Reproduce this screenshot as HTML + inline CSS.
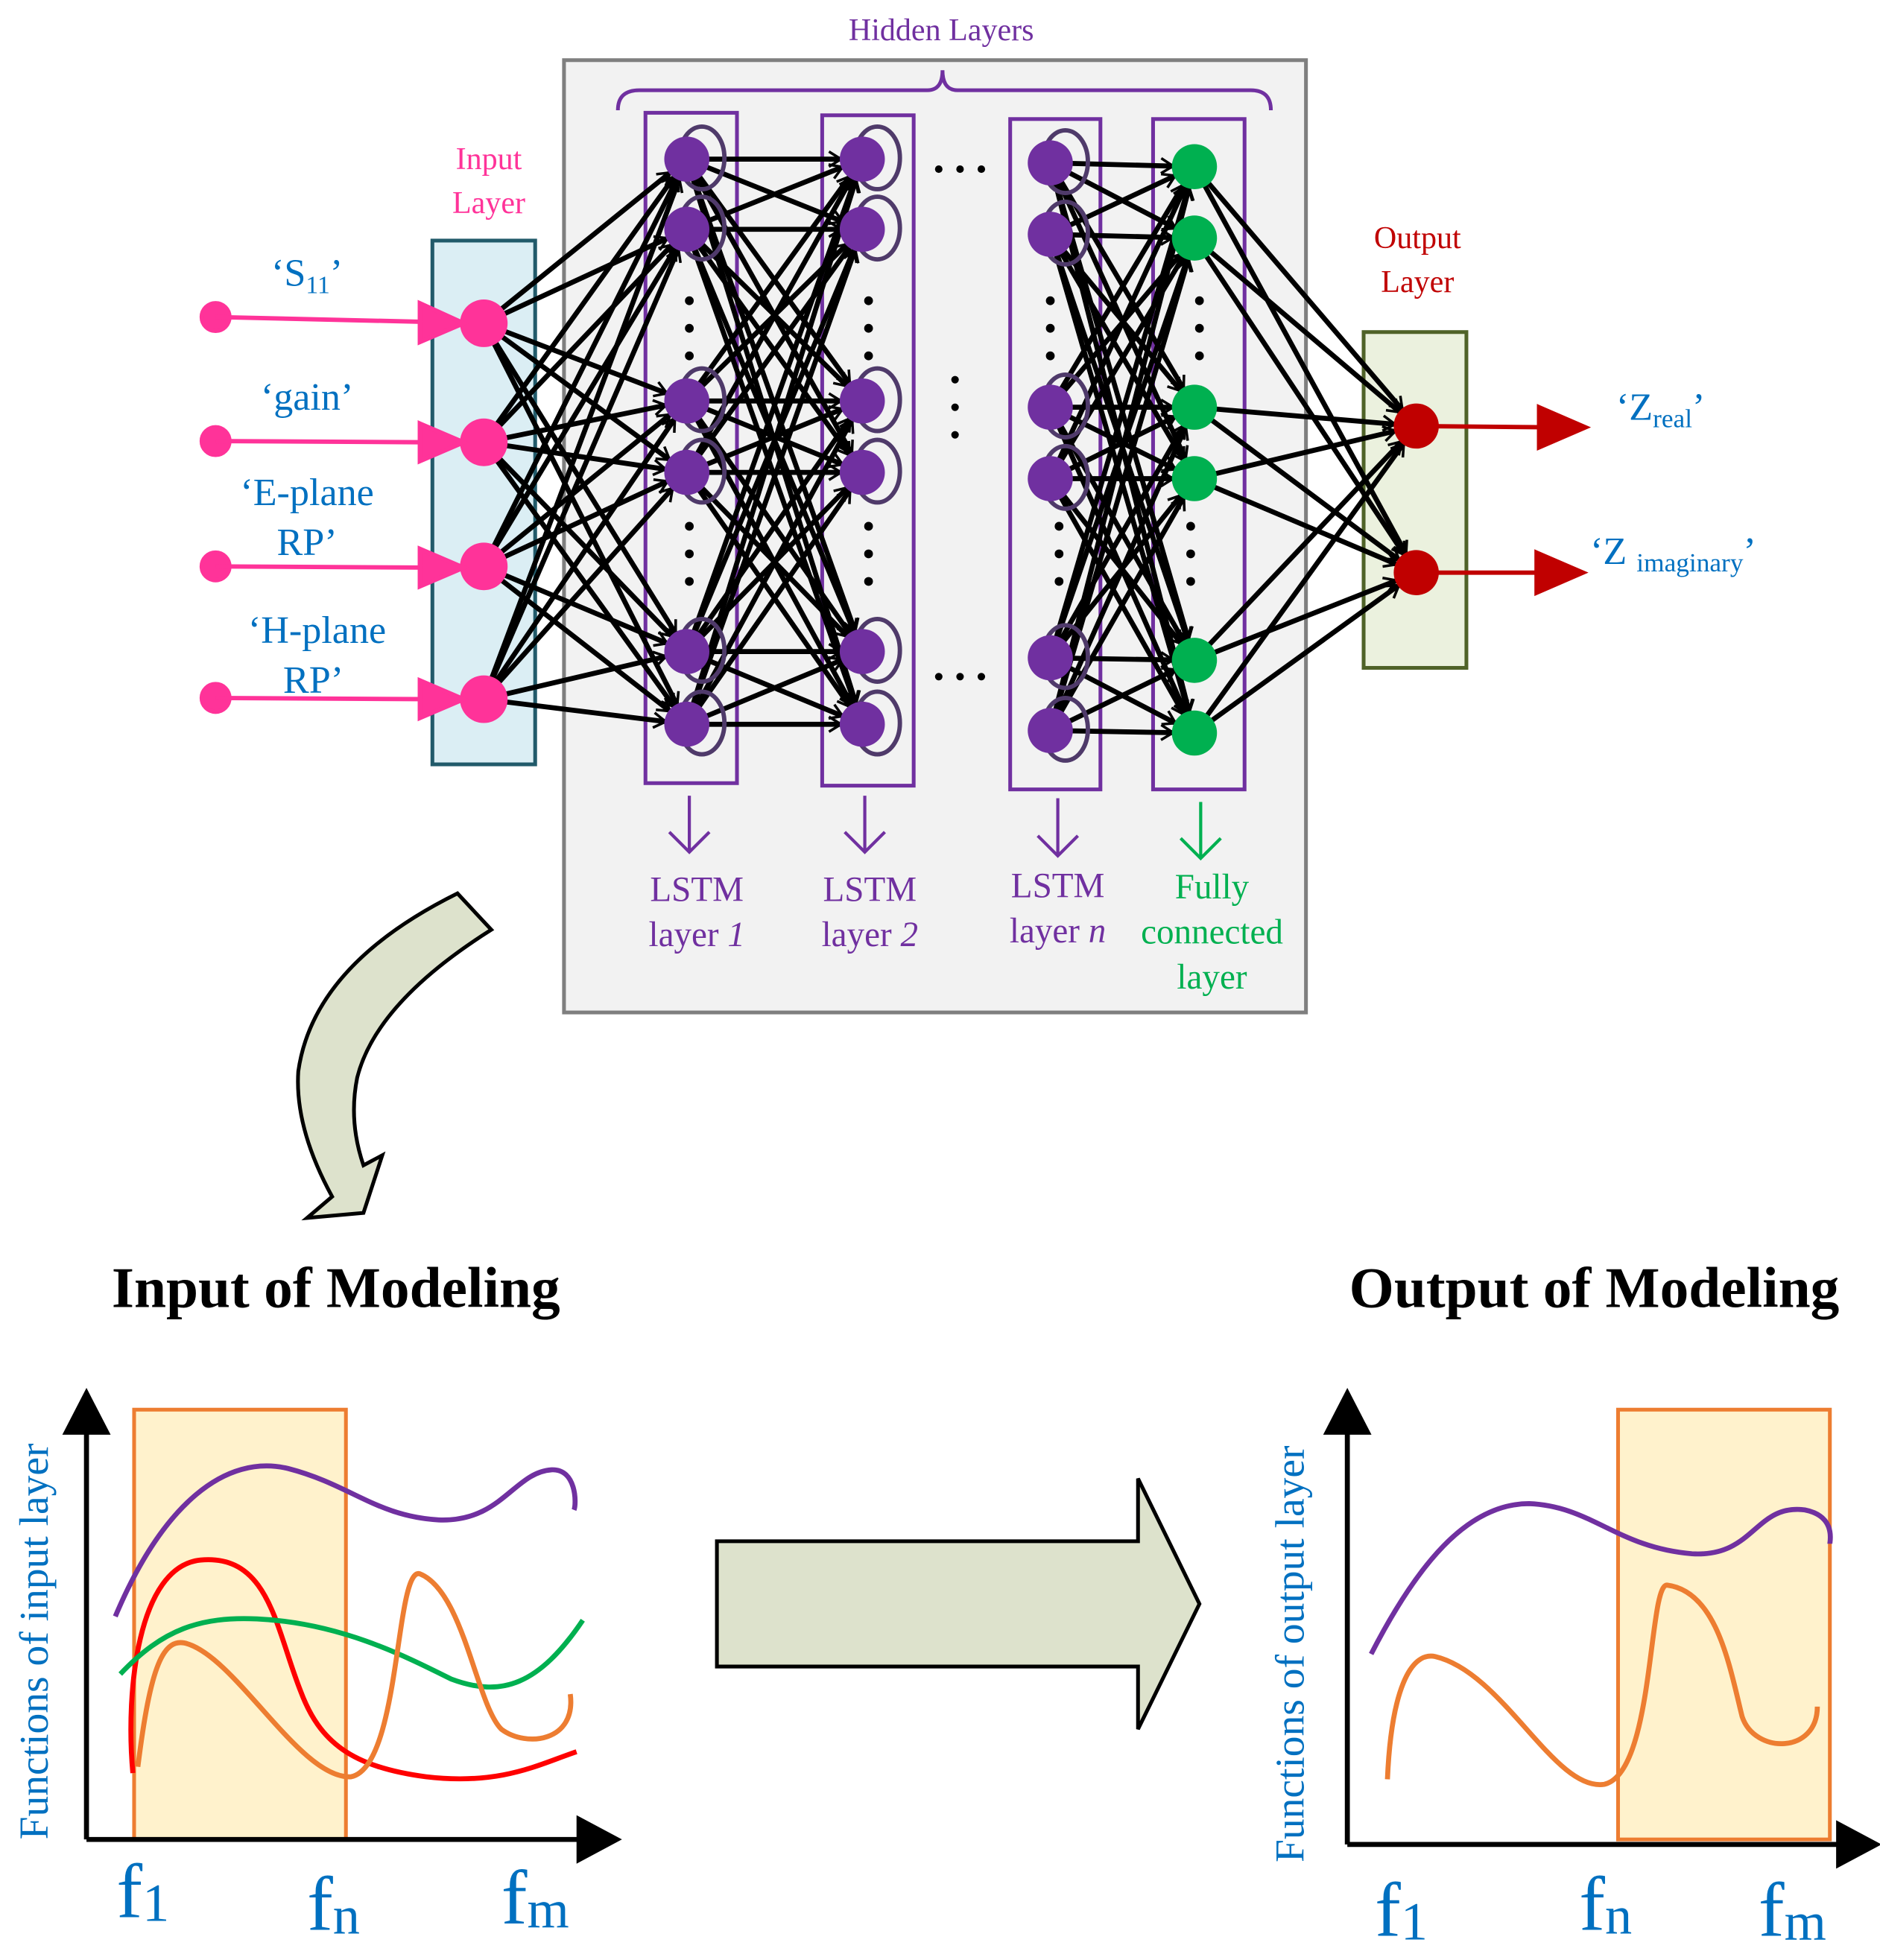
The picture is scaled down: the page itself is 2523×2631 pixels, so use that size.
<!DOCTYPE html>
<html><head><meta charset="utf-8"><style>
html,body{margin:0;padding:0;background:#fff}
svg{display:block}
text{font-family:"Liberation Serif",serif}
</style></head><body>
<svg id="s" width="2523" height="2631" viewBox="0 0 1500 1564.2" xmlns="http://www.w3.org/2000/svg">
<defs>
<marker id="ah" viewBox="0 0 10 10" refX="9" refY="5" markerWidth="6" markerHeight="6" orient="auto" markerUnits="userSpaceOnUse" style="overflow:visible">
<path d="M-16,-10 L0,0 L-16,10" transform="translate(9,5)" fill="none" stroke="#000" stroke-width="3.5"/>
</marker>
</defs>
<rect width="1500" height="1565" fill="#fff"/>
<rect x="450" y="48" width="592" height="760" fill="#f2f2f2" stroke="#7f7f7f" stroke-width="3"/>
<text x="751" y="32" font-size="25" fill="#7030a0" text-anchor="middle">Hidden Layers</text>
<path d="M493,88 Q493,72 510,72 L740,72 Q752,72 752,56 Q752,72 764,72 L998,72 Q1014,72 1014,88" fill="none" stroke="#7030a0" stroke-width="3"/>
<text x="390" y="135" font-size="25" fill="#ff3399" text-anchor="middle">Input</text>
<text x="390" y="170" font-size="25" fill="#ff3399" text-anchor="middle">Layer</text>
<rect x="345" y="192" width="82" height="418" fill="#dbeef4" stroke="#215a6a" stroke-width="3"/>
<text x="1131" y="198" font-size="25" fill="#c00000" text-anchor="middle">Output</text>
<text x="1131" y="233" font-size="25" fill="#c00000" text-anchor="middle">Layer</text>
<rect x="1088" y="265" width="82" height="268" fill="#ebf1de" stroke="#4f6228" stroke-width="3"/>
<rect x="515" y="90" width="73" height="535" fill="none" stroke="#7030a0" stroke-width="3"/>
<rect x="656" y="92" width="73" height="535" fill="none" stroke="#7030a0" stroke-width="3"/>
<rect x="806" y="95" width="72" height="535" fill="none" stroke="#7030a0" stroke-width="3"/>
<rect x="920" y="95" width="73" height="535" fill="none" stroke="#7030a0" stroke-width="3"/>
<g id="conn" stroke="#000" stroke-width="4" fill="none"></g>
<g id="nodes"></g>
<g stroke="#ff3399" stroke-width="3.5" fill="#ff3399">
<circle cx="172" cy="253" r="11"/><line x1="172" y1="253" x2="345" y2="257"/><path d="M335,242 L370,258 L335,273Z"/>
<circle cx="172" cy="352" r="11"/><line x1="172" y1="352" x2="345" y2="353"/><path d="M335,338 L370,353 L335,368Z"/>
<circle cx="172" cy="452" r="11"/><line x1="172" y1="452" x2="345" y2="453"/><path d="M335,438 L370,453 L335,468Z"/>
<circle cx="172" cy="557" r="11"/><line x1="172" y1="557" x2="345" y2="558"/><path d="M335,543 L370,558 L335,573Z"/>
</g>
<g fill="#0070c0" font-size="31" text-anchor="middle">
<text x="245" y="228">‘S<tspan font-size="20" dy="6">11</tspan><tspan dy="-6">’</tspan></text>
<text x="245" y="327">‘gain’</text>
<text x="245" y="403">‘E-plane</text>
<text x="245" y="443">RP’</text>
<text x="253" y="513">‘H-plane</text>
<text x="250" y="553">RP’</text>
<text x="1325" y="335">‘Z<tspan font-size="21" dy="6">real</tspan><tspan dy="-6">’</tspan></text>
<text x="1335" y="450">‘Z <tspan font-size="21" dy="6">imaginary</tspan><tspan dy="-6">’</tspan></text>
</g>
<g stroke="#c00000" stroke-width="3.5" fill="#c00000">
<line x1="1130" y1="340" x2="1235" y2="341"/><path d="M1228,325 L1265,341 L1228,357Z"/>
<line x1="1130" y1="457" x2="1232" y2="457"/><path d="M1226,441 L1263,457 L1226,473Z"/>
</g>
<g fill="#000">
<circle cx="749" cy="135" r="3"/><circle cx="766" cy="135" r="3"/><circle cx="783" cy="135" r="3"/>
<circle cx="749" cy="540" r="3"/><circle cx="766" cy="540" r="3"/><circle cx="783" cy="540" r="3"/>
<circle cx="762" cy="303" r="3"/><circle cx="762" cy="325" r="3"/><circle cx="762" cy="347" r="3"/>
</g>
<g fill="none" stroke-width="2.5">
<path d="M550,635 V680 M534,664 L550,680 L566,664" stroke="#7030a0"/>
<path d="M690,635 V680 M674,664 L690,680 L706,664" stroke="#7030a0"/>
<path d="M844,637 V683 M828,667 L844,683 L860,667" stroke="#7030a0"/>
<path d="M958,640 V685 M942,669 L958,685 L974,669" stroke="#00b050"/>
</g>
<g font-size="28" text-anchor="middle" fill="#7030a0">
<text x="556" y="719">LSTM</text><text x="556" y="755">layer <tspan font-style="italic">1</tspan></text>
<text x="694" y="719">LSTM</text><text x="694" y="755">layer <tspan font-style="italic">2</tspan></text>
<text x="844" y="716">LSTM</text><text x="844" y="752">layer <tspan font-style="italic">n</tspan></text>
<text x="967" y="717" fill="#00b050">Fully</text><text x="967" y="753" fill="#00b050">connected</text><text x="967" y="789" fill="#00b050">layer</text>
</g>
<path d="M365,713 L392,742 Q300,800 285,860 Q278,895 290,930 L305,922 L290,968 L245,972 L265,955 Q235,900 238,855 Q250,770 365,713Z" fill="#dde2cc" stroke="#000" stroke-width="3"/>
<text x="268" y="1043" font-size="46" font-weight="bold" text-anchor="middle">Input of Modeling</text>
<text x="1272" y="1043" font-size="46" font-weight="bold" text-anchor="middle">Output of Modeling</text>
<rect x="107" y="1125" width="169" height="343" fill="#fff2cc" stroke="#ed7d31" stroke-width="3"/>
<g stroke="#000" stroke-width="4" fill="#000">
<line x1="69" y1="1468" x2="465" y2="1468"/><path d="M462,1452 L492,1468 L462,1484Z"/>
<line x1="69" y1="1468" x2="69" y2="1140"/><path d="M53,1143 L69,1112 L85,1143Z"/>
<line x1="1075" y1="1472" x2="1470" y2="1472"/><path d="M1467,1456 L1497,1472 L1467,1488Z"/>
<line x1="1075" y1="1472" x2="1075" y2="1140"/><path d="M1059,1143 L1075,1112 L1091,1143Z"/>
</g>
<g fill="none" stroke-width="4">
<path d="M92,1290 C130,1200 180,1160 230,1172 C280,1185 300,1210 350,1213 C400,1215 410,1175 440,1173 C460,1172 460,1200 458,1205" stroke="#7030a0"/>
<path d="M106,1415 C100,1350 110,1250 160,1245 C215,1240 220,1300 240,1350 C255,1390 280,1410 340,1418 C400,1425 430,1408 460,1398" stroke="#ff0000"/>
<path d="M96,1336 C130,1300 160,1290 205,1292 C270,1295 320,1320 360,1340 C400,1355 430,1345 465,1293" stroke="#00b050"/>
<path d="M110,1410 C120,1330 130,1305 150,1312 C190,1325 240,1420 280,1418 C320,1410 315,1250 335,1256 C370,1270 380,1360 400,1380 C420,1395 460,1390 455,1352" stroke="#ed7d31"/>
</g>
<text transform="translate(38,1310) rotate(-90)" font-size="33" fill="#0070c0" text-anchor="middle">Functions of input layer</text>
<g fill="#0070c0" font-size="62">
<text x="93" y="1530">f<tspan font-size="43" dy="3">1</tspan></text>
<text x="245" y="1540">f<tspan font-size="43" dy="3">n</tspan></text>
<text x="400" y="1535">f<tspan font-size="43" dy="3">m</tspan></text>
<text x="1097" y="1545">f<tspan font-size="43" dy="3">1</tspan></text>
<text x="1260" y="1540">f<tspan font-size="43" dy="3">n</tspan></text>
<text x="1403" y="1545">f<tspan font-size="43" dy="3">m</tspan></text>
</g>
<path d="M572,1230 L908,1230 L908,1180 L957,1280 L908,1380 L908,1330 L572,1330Z" fill="#dde2cc" stroke="#000" stroke-width="3"/>
<rect x="1291" y="1125" width="169" height="343" fill="#fff2cc" stroke="#ed7d31" stroke-width="3"/>
<g fill="none" stroke-width="4">
<path d="M1094,1320 C1130,1250 1170,1200 1220,1200 C1270,1202 1290,1235 1350,1240 C1400,1243 1400,1200 1440,1205 C1465,1210 1460,1230 1460,1232" stroke="#7030a0"/>
<path d="M1107,1420 C1110,1350 1125,1318 1145,1322 C1200,1335 1240,1430 1280,1424 C1320,1415 1315,1265 1330,1265 C1370,1270 1380,1330 1390,1370 C1400,1400 1450,1400 1450,1362" stroke="#ed7d31"/>
</g>
<text transform="translate(1040,1320) rotate(-90)" font-size="33" fill="#0070c0" text-anchor="middle">Functions of output layer</text>
<script>
var NS="http://www.w3.org/2000/svg";
function mk(t,a,p){var e=document.createElementNS(NS,t);for(var k in a)e.setAttribute(k,a[k]);p.appendChild(e);return e;}
var L0=[[386,258],[386,353],[386,452],[386,558]];
var ys1=[127,183,320,377,520,578];
var L1=ys1.map(function(y){return[548,y]});
var L2=ys1.map(function(y){return[688,y]});
var Ln=[130,187,325,382,525,583].map(function(y){return[838,y]});
var LF=[133,190,325,382,527,585].map(function(y){return[953,y]});
var LO=[[1130,340],[1130,457]];
var conn=document.getElementById('conn'),nodes=document.getElementById('nodes');
function link(A,B,r){A.forEach(function(a){B.forEach(function(b){
var dx=b[0]-a[0],dy=b[1]-a[1],d=Math.sqrt(dx*dx+dy*dy);
var x2=b[0]-dx/d*r,y2=b[1]-dy/d*r;
mk('line',{x1:a[0]+dx/d*14,y1:a[1]+dy/d*14,x2:x2,y2:y2,'marker-end':'url(#ah)'},conn);});});}
link(L0,L1,17);link(L1,L2,17);link(Ln,LF,17);link(LF,LO,17);
L0.forEach(function(p){mk('circle',{cx:p[0],cy:p[1],r:19,fill:'#ff3399'},nodes)});
[L1,L2,Ln].forEach(function(L){L.forEach(function(p){
mk('ellipse',{cx:p[0]+12,cy:p[1]-1,rx:18,ry:25,fill:'none',stroke:'#4f3a6a','stroke-width':3.5},nodes);
mk('circle',{cx:p[0],cy:p[1],r:18,fill:'#7030a0'},nodes);});});
LF.forEach(function(p){mk('circle',{cx:p[0],cy:p[1],r:18,fill:'#00b050'},nodes)});
LO.forEach(function(p){mk('circle',{cx:p[0],cy:p[1],r:18,fill:'#c00000'},nodes)});
[[550,240],[550,262],[550,284],[550,420],[550,442],[550,464],[693,240],[693,262],[693,284],[693,420],[693,442],[693,464],[838,240],[838,262],[838,284],[845,420],[845,442],[845,464],[957,240],[957,262],[957,284],[950,420],[950,442],[950,464]].forEach(function(p){mk('circle',{cx:p[0],cy:p[1],r:3.5,fill:'#000'},nodes)});
</script>
</svg>
</body></html>
